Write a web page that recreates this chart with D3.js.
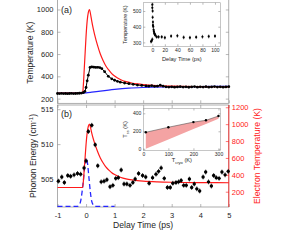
<!DOCTYPE html>
<html><head><meta charset="utf-8">
<script src="https://cdn.jsdelivr.net/npm/d3@7"></script>
<style>
body{margin:0;background:#fff}
svg{display:block}
text{font-family:"Liberation Sans",Arial,sans-serif}
</style>
</head><body>
<svg id="c" width="287" height="247"></svg>
<script>
// ---------- DATA ----------
// panel (a) electron temperature (red) and lattice temperature (blue)
const elecT = [-1, -0.5, -0.12, -0.1, -0.06, -0.03, 0, 0.04, 0.08, 0.12, 0.16, 0.2, 0.25, 0.3, 0.4, 0.5, 0.6, 0.7, 0.8, 0.9, 1.0, 1.2, 1.4, 1.6, 1.8, 2.0, 2.5, 3, 4, 5];
const elecV = [250, 250, 252, 300, 480, 620, 760, 900, 975, 1000, 955, 895, 830, 775, 680, 600, 540, 490, 455, 425, 403, 372, 352, 340, 332, 326, 317, 312, 308, 306];
const lattT = [-1, -0.1, 0, 0.2, 0.5, 1.0, 1.5, 2, 3, 4, 5];
const lattV = [250, 250, 252, 258, 268, 283, 294, 300, 305, 308, 310];
// panel (a) measured temperature (black)
const measT = [-1, -0.93, -0.86, -0.79, -0.72, -0.65, -0.58, -0.51, -0.44, -0.37, -0.3, -0.23, -0.16, -0.09, -0.04, 0, 0.04, 0.08, 0.14, 0.2, 0.27, 0.34, 0.41, 0.48, 0.55, 0.65, 0.78, 0.9, 1.0, 1.1, 1.2, 1.35, 1.5, 1.65, 1.8, 1.95, 2.1, 2.2, 2.3, 2.4, 2.5, 2.6, 2.7, 2.8, 2.9, 3.0, 3.1, 3.2, 3.3, 3.4, 3.5, 3.6, 3.7, 3.8, 3.9, 4.0, 4.1, 4.2, 4.3, 4.4, 4.5, 4.6, 4.7, 4.8, 4.9, 5.0];
const measV = [246, 245, 247, 245, 246, 244, 246, 247, 245, 246, 247, 248, 250, 255, 265, 300, 360, 410, 480, 484, 482, 480, 481, 479, 470, 442, 400, 378, 365, 355, 348, 340, 334, 328, 322, 318, 314, 312, 316, 310, 312, 320, 312, 306, 304, 306, 303, 305, 307, 304, 306, 302, 305, 308, 303, 306, 304, 307, 303, 305, 308, 304, 306, 303, 305, 307];
// inset (a): long-delay temperature
const insAT = [-2, -1, 0, 0, 0, 0.5, 0.5, 1, 1, 1.5, 2, 2.5, 3, 3.5, 4, 5, 7, 10, 15, 20, 30, 40, 50, 60, 70, 80, 90, 100];
const insAV = [305, 310, 320, 540, 520, 500, 460, 430, 410, 400, 380, 370, 360, 355, 350, 345, 335, 335, 335, 330, 340, 342, 332, 330, 333, 336, 338, 340];
// panel (b) phonon energy (black)
const phT = [-0.97, -0.85, -0.76, -0.64, -0.54, -0.42, -0.3, -0.19, -0.07, 0.0, 0.08, 0.2, 0.32, 0.41, 0.53, 0.63, 0.73, 0.84, 0.94, 1.04, 1.13, 1.23, 1.33, 1.43, 1.54, 1.64, 1.72, 1.84, 1.98, 2.09, 2.21, 2.33, 2.45, 2.54, 2.63, 2.74, 2.85, 2.95, 3.04, 3.15, 3.24, 3.33, 3.42, 3.51, 3.62, 3.7, 3.79, 3.88, 3.98, 4.1, 4.19, 4.29, 4.39, 4.47, 4.56, 4.66, 4.76, 4.87, 4.98];
const phE = [504.7, 505.3, 504.5, 505.5, 505.4, 505.6, 505.8, 505.7, 506.6, 507.6, 511.8, 512.7, 509.9, 506.9, 504.6, 504.7, 504.9, 503.9, 504.1, 505.1, 505.2, 506.3, 504.3, 504.3, 504.1, 504.5, 505.0, 505.8, 505.5, 505.3, 504.4, 505.2, 505.7, 506.1, 506.6, 505.1, 503.8, 503.8, 504.4, 504.5, 504.6, 504.8, 504.1, 504.1, 505.0, 503.8, 504.3, 503.6, 503.3, 505.3, 506.0, 504.6, 504.0, 505.5, 505.2, 505.1, 506.0, 505.6, 506.1];
const phErr = 0.35;
// panel (b) pump pulse (blue dashed), normalized
const pulseT = [-1, -0.3, -0.25, -0.2, -0.15, -0.1, -0.05, 0, 0.05, 0.1, 0.15, 0.2, 0.25, 0.3, 1];
const pulseV = [0, 0, 0.02, 0.08, 0.25, 0.5, 0.8, 1, 0.9, 0.6, 0.3, 0.1, 0.03, 0, 0];
// inset (b)
const cryoT = [10, 100, 200, 250, 300];
const ssT = [189, 245, 302, 322, 370];
const bandLoT = [10, 300];
const bandLoV = [5, 340];
// ticks
const tickA = [200, 400, 600, 800, 1000];
const tickB = [505, 510, 515];
const tickR = [200, 400, 600, 800, 1000, 1200];
const tickX = [-1, 0, 1, 2, 3, 4, 5];
const tickIA_y = [300, 400, 500];
const tickIA_x = [0, 20, 40, 60, 80, 100];
const tickIB_y = [0, 200, 400];
const tickIB_x = [0, 100, 200, 300];

// ---------- LAYOUT ----------
const svg = d3.select("#c");
const L = 57.5, R = 228.8;
const aTop = -2, aBot = 103.3, bTop = 105, bBot = 207;
const RED = "#ff1a1a", BLUE = "#2626ff", FRAME = "#8a8a8a", TXT = "#262626";
const fmt = d => String(d);

const x = d3.scaleLinear().domain([-1, 5]).range([L, R]);
const yA = d3.scaleLinear().domain([158, 1103]).range([aBot, aTop]);
const yB = d3.scaleLinear().domain([501, 515.6]).range([bBot, bTop]);
const yR = d3.scaleLinear().domain([19, 1227]).range([bBot, bTop]);
const yP = d3.scaleLinear().domain([0, 1]).range([yB(501.1), yB(508)]);

function styleAxis(g, color, fs) {
  g.select(".domain").remove();
  g.selectAll(".tick line").attr("stroke", color).attr("stroke-width", 0.6);
  g.selectAll(".tick text").attr("fill", color === FRAME ? TXT : color).attr("font-size", fs).attr("font-family", '"Liberation Sans",Arial,sans-serif');
}

// panel (a)
svg.append("rect").attr("x", L).attr("y", aTop).attr("width", R - L).attr("height", aBot - aTop)
  .attr("fill", "none").attr("stroke", FRAME).attr("stroke-width", 0.7);
svg.append("g").attr("transform", `translate(${L},0)`)
  .call(d3.axisLeft(yA).tickValues(tickA).tickFormat(fmt).tickSize(-3).tickPadding(4)).call(g => styleAxis(g, FRAME, 7.5));
svg.append("g").attr("transform", `translate(${R},0)`)
  .call(d3.axisRight(yA).tickValues(tickA).tickSize(-3).tickFormat("")).call(g => styleAxis(g, FRAME, 7.5));
svg.append("g").attr("transform", `translate(0,${aBot})`)
  .call(d3.axisBottom(x).tickValues(tickX).tickSize(-3).tickFormat("")).call(g => styleAxis(g, FRAME, 7.5));

const line = (xs, ys, sx, sy) => d3.line().x((d, i) => sx(xs[i])).y((d, i) => sy(ys[i]))(xs);
const lineC = (xs, ys, sx, sy) => d3.line().curve(d3.curveMonotoneX).x((d, i) => sx(xs[i])).y((d, i) => sy(ys[i]))(xs);

svg.append("path").attr("d", lineC(lattT, lattV, x, yA)).attr("fill", "none").attr("stroke", BLUE).attr("stroke-width", 1.2);
svg.append("path").attr("d", lineC(elecT, elecV, x, yA)).attr("fill", "none").attr("stroke", RED).attr("stroke-width", 1.2);
svg.append("path").attr("d", line(measT, measV, x, yA)).attr("fill", "none").attr("stroke", "#000").attr("stroke-width", 1);
svg.append("g").selectAll("circle").data(measT).join("circle")
  .attr("cx", d => x(d)).attr("cy", (d, i) => yA(measV[i])).attr("r", 1.4).attr("fill", "#000");

svg.append("text").attr("x", 61).attr("y", 12.5).attr("font-size", 9).attr("fill", TXT).text("(a)");
svg.append("text").attr("transform", `translate(33,${(aTop + aBot) / 2 + 2}) rotate(-90)`).attr("text-anchor", "middle")
  .attr("font-size", 8.6).attr("fill", TXT).text("Temperature (K)");

// inset (a)
const iaL = 143.3, iaR = 220.3, iaT = 2.7, iaB = 46.3;
const xIA = d3.scaleLinear().domain([-14.4, 108.5]).range([iaL, iaR]);
const yIA = d3.scaleLinear().domain([300, 500]).range([42.4, 11]);
svg.append("rect").attr("x", iaL).attr("y", iaT).attr("width", iaR - iaL).attr("height", iaB - iaT)
  .attr("fill", "#fff").attr("stroke", "#a0a0a0").attr("stroke-width", 0.6);
svg.append("g").attr("transform", `translate(${iaL},0)`)
  .call(d3.axisLeft(yIA).tickValues(tickIA_y).tickFormat(fmt).tickSize(-2).tickPadding(2)).call(g => styleAxis(g, FRAME, 5));
svg.append("g").attr("transform", `translate(${iaR},0)`)
  .call(d3.axisRight(yIA).tickValues(tickIA_y).tickSize(-2).tickFormat("")).call(g => styleAxis(g, FRAME, 5));
svg.append("g").attr("transform", `translate(0,${iaB})`)
  .call(d3.axisBottom(xIA).tickValues(tickIA_x).tickFormat(fmt).tickSize(-2).tickPadding(2)).call(g => styleAxis(g, FRAME, 5));
svg.append("g").attr("transform", `translate(0,${iaT})`)
  .call(d3.axisTop(xIA).tickValues(tickIA_x).tickSize(-2).tickFormat("")).call(g => styleAxis(g, FRAME, 5));
const gIA = svg.append("g");
gIA.selectAll("line").data(insAT).join("line")
  .attr("x1", d => xIA(d)).attr("x2", d => xIA(d))
  .attr("y1", (d, i) => yIA(insAV[i] - 12)).attr("y2", (d, i) => yIA(insAV[i] + 12))
  .attr("stroke", "#000").attr("stroke-width", 0.6);
gIA.selectAll("circle").data(insAT).join("circle")
  .attr("cx", d => xIA(d)).attr("cy", (d, i) => yIA(insAV[i])).attr("r", 1.1).attr("fill", "#000");
svg.append("text").attr("x", (iaL + iaR) / 2).attr("y", 60.5).attr("text-anchor", "middle")
  .attr("font-size", 5.7).attr("fill", TXT).text("Delay Time (ps)");
svg.append("text").attr("transform", `translate(127,${(iaT + iaB) / 2}) rotate(-90)`).attr("text-anchor", "middle")
  .attr("font-size", 5.3).attr("fill", TXT).text("Temperature (K)");

// panel (b)
svg.append("rect").attr("x", L).attr("y", bTop).attr("width", R - L).attr("height", bBot - bTop)
  .attr("fill", "none").attr("stroke", FRAME).attr("stroke-width", 0.7);
svg.append("g").attr("transform", `translate(${L},0)`)
  .call(d3.axisLeft(yB).tickValues(tickB).tickFormat(fmt).tickSize(-3).tickPadding(4)).call(g => styleAxis(g, FRAME, 7.5));
svg.append("g").attr("transform", `translate(0,${bBot})`)
  .call(d3.axisBottom(x).tickValues(tickX).tickFormat(fmt).tickSize(-3).tickPadding(6)).call(g => styleAxis(g, FRAME, 7.5));
svg.append("g").attr("transform", `translate(0,${bTop})`)
  .call(d3.axisTop(x).tickValues(tickX).tickSize(-3).tickFormat("")).call(g => styleAxis(g, FRAME, 7.5));
svg.append("line").attr("x1", R).attr("x2", R).attr("y1", bTop).attr("y2", bBot).attr("stroke", RED).attr("stroke-width", 0.8);
svg.append("g").attr("transform", `translate(${R},0)`)
  .call(d3.axisRight(yR).tickValues(tickR).tickFormat(fmt).tickSize(-3).tickPadding(3)).call(g => styleAxis(g, RED, 7.5));

svg.append("path").attr("d", lineC(pulseT, pulseV, x, yP)).attr("fill", "none").attr("stroke", BLUE)
  .attr("stroke-width", 1.3).attr("stroke-dasharray", "5,3");
svg.append("path").attr("d", lineC(elecT, elecV, x, yR)).attr("fill", "none").attr("stroke", RED).attr("stroke-width", 1.2);
const gB = svg.append("g");
gB.selectAll("line").data(phT).join("line")
  .attr("x1", d => x(d)).attr("x2", d => x(d))
  .attr("y1", (d, i) => yB(phE[i] - phErr)).attr("y2", (d, i) => yB(phE[i] + phErr))
  .attr("stroke", "#000").attr("stroke-width", 0.7);
gB.selectAll("circle").data(phT).join("circle")
  .attr("cx", d => x(d)).attr("cy", (d, i) => yB(phE[i])).attr("r", 1.7).attr("fill", "#000");

svg.append("text").attr("x", 61).attr("y", 117).attr("font-size", 9).attr("fill", TXT).text("(b)");
const pl = svg.append("text").attr("transform", `translate(36,${(bTop + bBot) / 2}) rotate(-90)`).attr("text-anchor", "middle")
  .attr("font-size", 8.6).attr("fill", TXT);
pl.append("tspan").text("Phonon Energy (cm");
pl.append("tspan").attr("font-size", 6).attr("dy", -3).text("-1");
pl.append("tspan").attr("dy", 3).text(")");
svg.append("text").attr("x", (L + R) / 2).attr("y", 228).attr("text-anchor", "middle")
  .attr("font-size", 8.6).attr("fill", TXT).text("Delay Time (ps)");
svg.append("text").attr("transform", `translate(260,156) rotate(-90)`).attr("text-anchor", "middle")
  .attr("font-size", 8.6).attr("fill", RED).text("Electron Temperature (K)");

// inset (b)
const ibL = 143.3, ibR = 220.5, ibT = 108.5, ibB = 150.3;
const xIB = d3.scaleLinear().domain([0, 308]).range([ibL, ibR]);
const yIB = d3.scaleLinear().domain([0, 400]).range([149.3, 113.3]);
svg.append("rect").attr("x", ibL).attr("y", ibT).attr("width", ibR - ibL).attr("height", ibB - ibT)
  .attr("fill", "#fff").attr("stroke", "#a0a0a0").attr("stroke-width", 0.6);
svg.append("g").attr("transform", `translate(${ibL},0)`)
  .call(d3.axisLeft(yIB).tickValues(tickIB_y).tickFormat(fmt).tickSize(-2).tickPadding(2)).call(g => styleAxis(g, FRAME, 5));
svg.append("g").attr("transform", `translate(${ibR},0)`)
  .call(d3.axisRight(yIB).tickValues(tickIB_y).tickSize(-2).tickFormat("")).call(g => styleAxis(g, FRAME, 5));
svg.append("g").attr("transform", `translate(0,${ibB})`)
  .call(d3.axisBottom(xIB).tickValues(tickIB_x).tickFormat(fmt).tickSize(-2).tickPadding(2)).call(g => styleAxis(g, FRAME, 5));
svg.append("g").attr("transform", `translate(0,${ibT})`)
  .call(d3.axisTop(xIB).tickValues(tickIB_x).tickSize(-2).tickFormat("")).call(g => styleAxis(g, FRAME, 5));
const band = d3.area()
  .x(d => xIB(d))
  .y0(d => yIB(d3.scaleLinear().domain(bandLoT).range(bandLoV)(d)))
  .y1(d => yIB(d3.scaleLinear().domain(cryoT).range(ssT)(d)));
svg.append("path").attr("d", band(cryoT)).attr("fill", "#f4a3a3").attr("stroke", "none");
svg.append("path").attr("d", line(cryoT, ssT, xIB, yIB)).attr("fill", "none").attr("stroke", "#555").attr("stroke-width", 0.6);
svg.append("g").selectAll("circle").data(cryoT).join("circle")
  .attr("cx", d => xIB(d)).attr("cy", (d, i) => yIB(ssT[i])).attr("r", 1.2).attr("fill", "#000");
const tl = svg.append("text").attr("x", (ibL + ibR) / 2).attr("y", 162).attr("text-anchor", "middle").attr("font-size", 5.7).attr("fill", TXT);
tl.append("tspan").text("T");
tl.append("tspan").attr("font-size", 4).attr("dy", 1.5).text("cryo");
tl.append("tspan").attr("dy", -1.5).text(" (K)");
const sl = svg.append("text").attr("transform", `translate(127,${(ibT + ibB) / 2}) rotate(-90)`).attr("text-anchor", "middle").attr("font-size", 5.7).attr("fill", TXT);
sl.append("tspan").text("T");
sl.append("tspan").attr("font-size", 4).attr("dy", 1.5).text("ss");
sl.append("tspan").attr("dy", -1.5).text(" (K)");
</script>
</body></html>
